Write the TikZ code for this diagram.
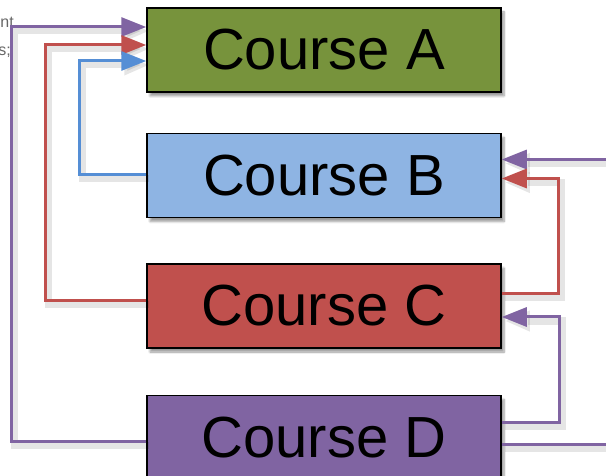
\documentclass[tikz,border=0pt]{standalone}
\usepackage{fontspec}
\setmainfont{Liberation Sans}
\usetikzlibrary{positioning,arrows.meta,shadows.blur}
\definecolor{courseGreen}{RGB}{119,147,60}
\definecolor{courseBlue}{RGB}{142,180,227}
\definecolor{courseRed}{RGB}{192,80,77}
\definecolor{coursePurple}{RGB}{128,100,162}
\definecolor{linkBlue}{RGB}{85,142,213}
\begin{document}
\begin{tikzpicture}[
    x=1pt, y=-1pt,
    course/.style={rectangle, draw=black, line width=1.5pt, minimum width=354pt, minimum height=84pt, inner sep=0pt, font=\fontsize{58}{58}\selectfont, blur shadow={shadow xshift=3pt, shadow yshift=-4pt, shadow opacity=40, shadow blur steps=8}},
    link/.style={line width=3pt, -{Triangle[length=25pt,width=19pt]}, preaction={draw=black, opacity=0.1, line width=7pt, transform canvas={shift={(3pt,-4pt)}}}},
    plain/.style={line width=3pt, preaction={draw=black, opacity=0.1, line width=7pt, transform canvas={shift={(3pt,-4pt)}}}},
    scrap/.style={font=\fontsize{16}{16}\selectfont, text=black!60, inner sep=0pt}
]
    \useasboundingbox (0,0) rectangle (606,476);

    % Nodes
    \node [course, fill=courseGreen] (courseA) at (324,50) {Course A};
    \node [course, fill=courseBlue, below=40pt of courseA] (courseB) {Course B};
    \node [course, fill=courseRed, below=45pt of courseB] (courseC) {Course C};
    \node [course, fill=coursePurple, below=46pt of courseC] (courseD) {Course D};

    % Cut-off text
    \node [scrap, anchor=base east] (scrapOne) at (14,28) {nt};
    \node [scrap, anchor=base east] (scrapTwo) at (11,56) {s;};

    % Free ends
    \coordinate (rightIn) at (610,162);
    \coordinate (rightOut) at (610,441);

    % Arrows on the left
    \draw [link, coursePurple] ([yshift=-4pt]courseD.west) -- ++(-135,0) |- ([yshift=23pt]courseA.west);
    \draw [link, courseRed] ([yshift=5pt]courseC.west) -- ++(-101,0) |- ([yshift=5pt]courseA.west);
    \draw [link, linkBlue] ([yshift=1pt]courseB.west) -- ++(-67,0) |- ([yshift=-11pt]courseA.west);

    % Arrows on the right
    \draw [link, coursePurple] ([yshift=16pt]courseB.east -| rightIn) -- ([yshift=16pt]courseB.east);
    \draw [link, courseRed] ([yshift=12pt]courseC.east) -- ++(57,0) |- ([yshift=-3pt]courseB.east);
    \draw [link, coursePurple] ([yshift=15pt]courseD.east) -- ++(58,0) |- ([yshift=-11pt]courseC.east);
    \draw [plain, coursePurple] ([yshift=-7pt]courseD.east) -- ([yshift=-7pt]courseD.east -| rightOut);
\end{tikzpicture}
\end{document}
